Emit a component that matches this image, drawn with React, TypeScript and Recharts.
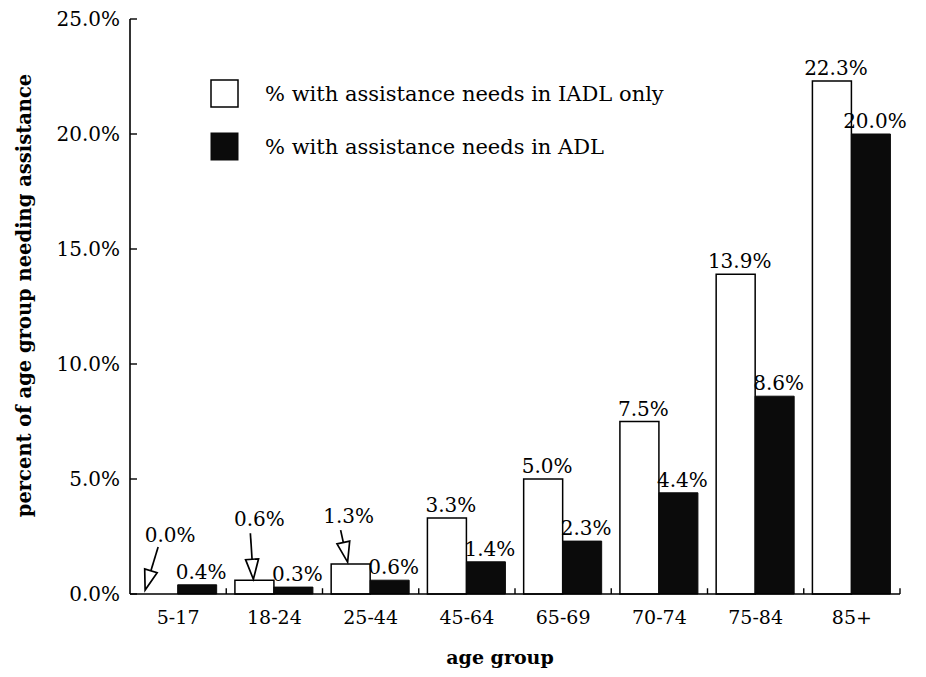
import React from 'react';
import { BarChart, Bar, XAxis, YAxis, Legend, LabelList, Label, ReferenceLine, ReferenceDot } from 'recharts';

const ageGroups = ['5-17', '18-24', '25-44', '45-64', '65-69', '70-74', '75-84', '85+'];
const iadlOnly = [0.0, 0.6, 1.3, 3.3, 5.0, 7.5, 13.9, 22.3];
const adl = [0.4, 0.3, 0.6, 1.4, 2.3, 4.4, 8.6, 20.0];
const yTicks = [0, 5, 10, 15, 20, 25];
const iadlName = '% with assistance needs in IADL only';
const adlName = '% with assistance needs in ADL';
// groups whose IADL label is lifted up and points at the bar with an arrow
const arrowGroups = ['5-17', '18-24', '25-44'];

const data = ageGroups.map((group, i) => ({ group, iadl: iadlOnly[i], adl: adl[i] }));

const FONT = '"DejaVu Serif", serif';
const BLACK = '#0b0b0b';

// offsets of label / arrow tail / arrow tip, relative to the category centre and the bar top
const ARROW_OFFSETS: Record<string, { lx: number; ly: number; tx: number; ty: number; hx: number; hy: number }> = {
  '5-17': { lx: -8, ly: -52, tx: -20, ty: -47, hx: -33, hy: -4 },
  '18-24': { lx: -15, ly: -54, tx: -24, ty: -47, hx: -21, hy: -1 },
  '25-44': { lx: -22, ly: -41, tx: -30, ty: -34, hx: -23, hy: -2 },
};

const fmt = (v: number) => `${Number(v).toFixed(1)}%`;

const Arrow = ({ x1, y1, x2, y2 }: { x1: number; y1: number; x2: number; y2: number }) => {
  const dx = x2 - x1;
  const dy = y2 - y1;
  const len = Math.sqrt(dx * dx + dy * dy);
  const ux = dx / len;
  const uy = dy / len;
  const headLen = 20;
  const half = 6.5;
  const bx = x2 - ux * headLen;
  const by = y2 - uy * headLen;
  const pts = [
    [x2, y2],
    [bx - uy * half, by + ux * half],
    [bx + uy * half, by - ux * half],
  ]
    .map(p => p.join(','))
    .join(' ');
  return (
    <g>
      <line x1={x1} y1={y1} x2={bx} y2={by} stroke="#000" strokeWidth={1.7} />
      <polygon points={pts} fill="#fff" stroke="#000" strokeWidth={1.7} strokeLinejoin="miter" />
    </g>
  );
};

const arrowShape = (group: string, value: number) => (props: any) => {
  const { cx, cy } = props;
  const a = ARROW_OFFSETS[group];
  return (
    <g>
      <text x={cx + a.lx} y={cy + a.ly} textAnchor="middle" fontFamily={FONT} fontSize={20} fill="#000">
        {fmt(value)}
      </text>
      <Arrow x1={cx + a.tx} y1={cy + a.ty} x2={cx + a.hx} y2={cy + a.hy} />
    </g>
  );
};

const arrowValues = arrowGroups.map(g => iadlOnly[ageGroups.indexOf(g)]);

const BarValueLabel = (props: any) => {
  const { x, y, width, value, skip } = props;
  if (skip && arrowValues.includes(value)) return null;
  return (
    <text x={x + width / 2 + 4} y={y - 6} textAnchor="middle" fontFamily={FONT} fontSize={20} fill="#000">
      {fmt(value)}
    </text>
  );
};

const LegendBox = () => (
  <svg width={540} height={90}>
    <rect x={1} y={1} width={27} height={27} fill="#fff" stroke="#000" strokeWidth={1.5} />
    <text x={55} y={22} fontFamily={FONT} fontSize={21} fill="#000">{iadlName}</text>
    <rect x={1} y={54} width={27} height={27} fill={BLACK} stroke={BLACK} />
    <text x={55} y={75} fontFamily={FONT} fontSize={21} fill="#000">{adlName}</text>
  </svg>
);

const YTitle = (props: any) => {
  const vb = props.viewBox;
  const cx = 24;
  const cy = vb.y + vb.height / 2 - 11;
  return (
    <text
      x={cx}
      y={cy}
      transform={`rotate(-90 ${cx} ${cy})`}
      textAnchor="middle"
      dominantBaseline="central"
      fontFamily={FONT}
      fontWeight="bold"
      fontSize={19.5}
      fill="#000"
    >
      percent of age group needing assistance
    </text>
  );
};

const XTitle = (props: any) => {
  const vb = props.viewBox;
  return (
    <text
      x={vb.x + vb.width / 2 - 15}
      y={vb.y + 70}
      textAnchor="middle"
      fontFamily={FONT}
      fontWeight="bold"
      fontSize={19}
      fill="#000"
    >
      age group
    </text>
  );
};

export default function App() {
  return (
    <div style={{ margin: -8, width: 926, height: 677, background: '#fff', overflow: 'hidden' }}>
      <BarChart
        width={926}
        height={677}
        data={data}
        margin={{ top: 19, right: 26, left: 0, bottom: 0 }}
        barCategoryGap="9%"
        barGap={0}
      >
        <XAxis
          dataKey="group"
          height={83}
          axisLine={{ stroke: '#000', strokeWidth: 1.6 }}
          tickLine={false}
          tickMargin={11}
          interval={0}
          tick={{ fill: '#000', fontFamily: FONT, fontSize: 19 }}
        >
          <Label content={<XTitle />} />
        </XAxis>
        <YAxis
          width={130}
          domain={[0, 25]}
          ticks={yTicks}
          interval={0}
          tickFormatter={fmt}
          axisLine={{ stroke: '#000', strokeWidth: 1.6 }}
          tickLine={{ stroke: '#000', strokeWidth: 1.4 }}
          tickSize={-7}
          tickMargin={17}
          tick={{ fill: '#000', fontFamily: FONT, fontSize: 20 }}
        >
          <Label content={<YTitle />} />
        </YAxis>
        <Legend
          layout="horizontal"
          verticalAlign="middle"
          align="center"
          wrapperStyle={{ left: 210, top: 79, width: 540 }}
          content={() => <LegendBox />}
        />
        {ageGroups.slice(1).map(g => (
          <ReferenceLine
            key={g}
            segment={[{ x: g, y: 0 }, { x: g, y: 0.25 }]}
            position="start"
            stroke="#000"
            strokeWidth={1.4}
          />
        ))}
        <ReferenceLine
          segment={[{ x: '85+', y: 0 }, { x: '85+', y: 0.25 }]}
          position="end"
          stroke="#000"
          strokeWidth={1.4}
        />
        <Bar dataKey="iadl" name={iadlName} fill="#fff" stroke="#000" strokeWidth={1.5} isAnimationActive={false}>
          <LabelList dataKey="iadl" content={<BarValueLabel skip />} />
        </Bar>
        <Bar dataKey="adl" name={adlName} fill={BLACK} stroke={BLACK} strokeWidth={1} isAnimationActive={false}>
          <LabelList dataKey="adl" content={<BarValueLabel />} />
        </Bar>
        {arrowGroups.map(g => {
          const v = iadlOnly[ageGroups.indexOf(g)];
          return <ReferenceDot key={g} x={g} y={v} r={0} shape={arrowShape(g, v)} />;
        })}
      </BarChart>
    </div>
  );
}
